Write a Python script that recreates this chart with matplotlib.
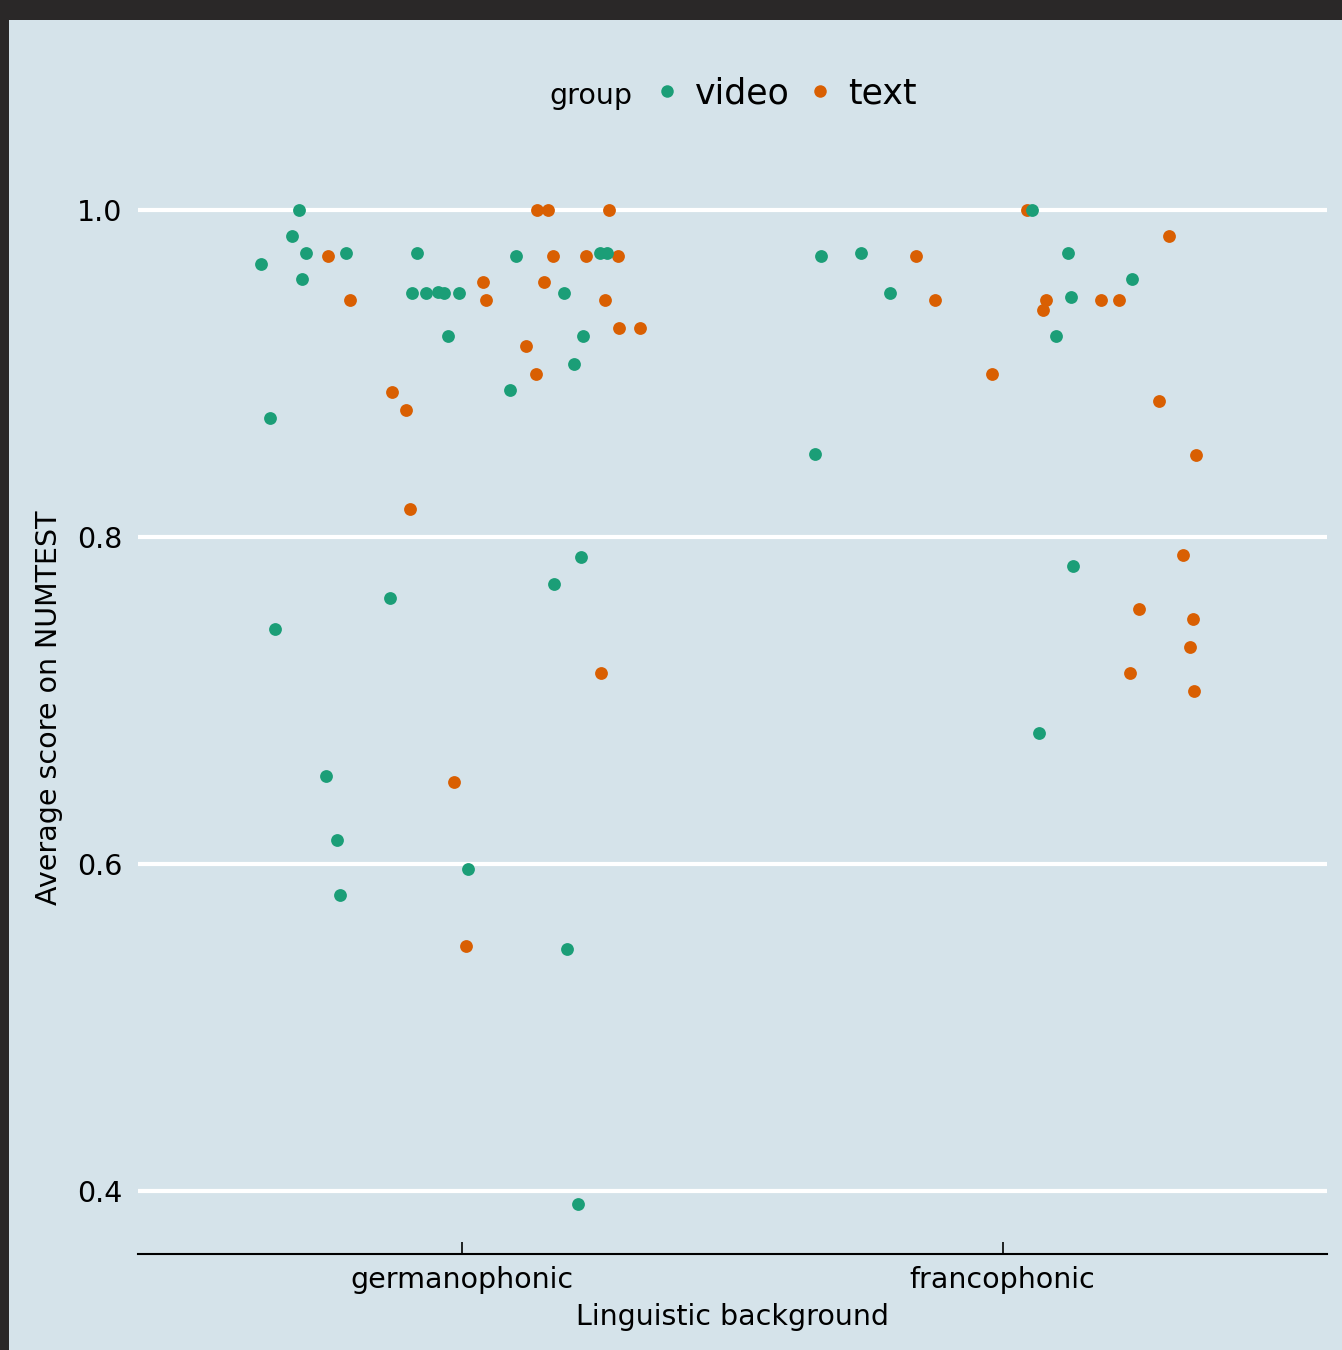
import matplotlib
matplotlib.use("Agg")
import matplotlib.pyplot as plt
from matplotlib.patches import Rectangle
from matplotlib.lines import Line2D
import numpy as np

# categories and colours
categories = ["germanophonic", "francophonic"]
groups = ["video", "text"]
colors = {"video": "#1b9e77", "text": "#d95f02"}

# jitter offsets (category units) and scores
germ_video_jit = [-0.372, -0.355, -0.346, -0.315, -0.303, -0.296, -0.289, -0.252, -0.231, -0.226,
                  -0.215, -0.133, -0.093, -0.083, -0.067, -0.044, -0.033, -0.026, -0.006, 0.011,
                  0.089, 0.100, 0.170, 0.189, 0.194, 0.207, 0.215, 0.220, 0.224, 0.255, 0.268]
germ_video_score = [0.967, 0.873, 0.744, 0.984, 1.000, 0.958, 0.974, 0.654, 0.615, 0.581,
                    0.974, 0.763, 0.949, 0.974, 0.949, 0.950, 0.949, 0.923, 0.949, 0.597,
                    0.890, 0.972, 0.771, 0.949, 0.548, 0.906, 0.392, 0.788, 0.923, 0.974, 0.974]

germ_text_jit = [-0.248, -0.207, -0.130, -0.104, -0.096, -0.015, 0.006, 0.039, 0.044, 0.117, 0.137,
                 0.139, 0.152, 0.159, 0.167, 0.229, 0.257, 0.265, 0.272, 0.289, 0.290, 0.329]
germ_text_score = [0.972, 0.945, 0.889, 0.878, 0.817, 0.650, 0.550, 0.956, 0.945, 0.917, 0.900,
                   1.000, 0.956, 1.000, 0.972, 0.972, 0.717, 0.945, 1.000, 0.972, 0.928, 0.928]

franc_video_jit = [-0.348, -0.337, -0.263, -0.209, 0.054, 0.067, 0.098, 0.120, 0.126, 0.130, 0.239]
franc_video_score = [0.851, 0.972, 0.974, 0.949, 1.000, 0.680, 0.923, 0.974, 0.947, 0.782, 0.958]

franc_text_jit = [-0.161, -0.126, -0.020, 0.044, 0.074, 0.080, 0.181, 0.215, 0.235, 0.252,
                  0.289, 0.307, 0.333, 0.346, 0.352, 0.354, 0.357]
franc_text_score = [0.972, 0.945, 0.900, 1.000, 0.939, 0.945, 0.945, 0.945, 0.717, 0.756,
                    0.883, 0.984, 0.789, 0.733, 0.750, 0.706, 0.850]

y_ticks = [0.4, 0.6, 0.8, 1.0]

W, H = 1342, 1350
fig = plt.figure(figsize=(W / 100, H / 100), dpi=100)
fig.patch.set_facecolor("#2a2828")
panel_col = "#d5e3ea"
fig.patches.append(Rectangle((9 / W, 0), 1 - 9 / W, 1 - 20 / H, transform=fig.transFigure,
                             facecolor=panel_col, edgecolor="none", zorder=-10))

ax = fig.add_axes([138 / W, 96 / H, (1327 - 138) / W, (1254 - 161) / H])
ax.set_facecolor(panel_col)
ax.set_zorder(2)

# text first, then video (video drawn on top)
ax.scatter(np.add(1, germ_text_jit), germ_text_score, s=85, color=colors["text"], lw=0, zorder=3)
ax.scatter(np.add(2, franc_text_jit), franc_text_score, s=85, color=colors["text"], lw=0, zorder=3)
ax.scatter(np.add(1, germ_video_jit), germ_video_score, s=85, color=colors["video"], lw=0, zorder=4)
ax.scatter(np.add(2, franc_video_jit), franc_video_score, s=85, color=colors["video"], lw=0, zorder=4)

ax.set_xlim(0.4, 2.6)
ax.set_ylim(0.3615, 1.030)
ax.set_xticks([1, 2])
ax.set_xticklabels(categories)
ax.set_yticks(y_ticks)
ax.set_yticklabels([f"{v:.1f}" for v in y_ticks])
ax.yaxis.grid(True, color="white", linewidth=3)
ax.set_axisbelow(True)

for side in ["top", "right", "left"]:
    ax.spines[side].set_visible(False)
ax.spines["bottom"].set_linewidth(1.5)
ax.tick_params(axis="x", direction="in", length=9, width=1.2, labelsize=20.5, pad=9)
ax.tick_params(axis="y", length=0, labelsize=20.5, pad=11)

ax.set_xlabel("Linguistic background", fontsize=20.5, labelpad=6)
ax.set_ylabel("Average score on NUMTEST", fontsize=20.5, labelpad=10)

# legend at the top
handles = [Line2D([], [], marker="o", linestyle="none", markersize=9,
                  markerfacecolor=colors[g], markeredgewidth=0) for g in groups]
fig.legend(handles, groups, loc="center left", bbox_to_anchor=(650 / W, 1 - 93 / H),
           ncol=2, frameon=False, fontsize=25, handlelength=1.0, handletextpad=0.3,
           columnspacing=0.36, borderpad=0, borderaxespad=0)
fig.text(591 / W, 1 - 104 / H, "group", fontsize=20.5, ha="center", va="baseline")

fig.savefig("out.png", dpi=100, facecolor=fig.get_facecolor())
